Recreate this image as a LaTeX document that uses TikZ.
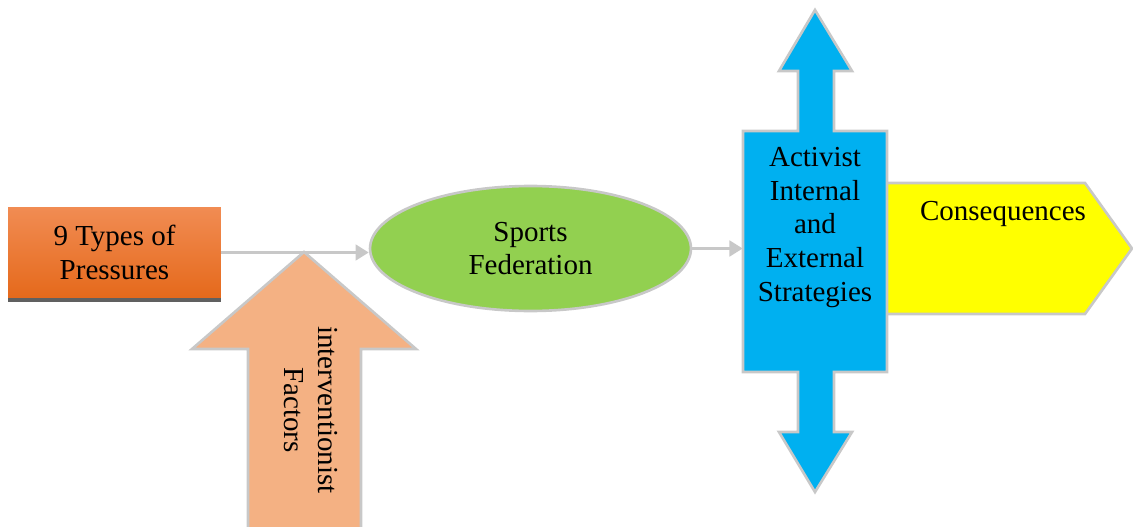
\documentclass[tikz,border=0pt]{standalone}
\usepackage{fontspec}
\setmainfont{Liberation Serif}
\usetikzlibrary{arrows.meta}
\usetikzlibrary{shapes.geometric}
\definecolor{linegray}{HTML}{C8C8C8}
\definecolor{shadowgray}{HTML}{606060}
\definecolor{orangetop}{HTML}{F18C53}
\definecolor{orangebot}{HTML}{E5691B}
\definecolor{peach}{HTML}{F4B183}
\definecolor{fedgreen}{HTML}{92D050}
\definecolor{stratblue}{HTML}{00B0F0}
\definecolor{consyellow}{HTML}{FFFF00}
\tikzset{
    txt/.style={
        font=\fontsize{16.5}{19.3}\selectfont,
        align=center,
        inner sep=0pt
    },
    outline/.style={
        draw=linegray,
        line width=1.5pt,
        line join=miter
    },
    link/.style={
        draw=linegray,
        line width=1.4pt,
        -{Triangle[length=7.5pt, width=9pt]}
    },
    pressbox/.style={
        txt,
        rectangle,
        minimum width=4.26cm,
        minimum height=1.82cm,
        top color=orangetop,
        bottom color=orangebot
    },
    fedshape/.style={
        txt,
        ellipse,
        outline,
        fill=fedgreen,
        minimum width=6.42cm,
        minimum height=2.5cm
    }
}

\begin{document}
\begin{tikzpicture}[x=0.02cm, y=-0.02cm]
    \clip (0,0) rectangle (1133,527);

    % Pressures box and its shadow
    \fill[shadowgray] (8,212) rectangle (221,302);
    \node[pressbox] (press) at (114.5,252.5) {9 Types of\\Pressures};

    % interventionist factors arrow
    \filldraw[outline, fill=peach] (304,252) -- (416,349) -- (361,349) -- (361,540)
        -- (248,540) -- (248,349) -- (192,349) -- cycle;
    \node[txt, rotate=-90] (factors) at (311,410) {interventionist\\Factors};

    % Federation
    \node[fedshape] (fed) at (530.5,248.5) {Sports\\Federation};

    % Consequences
    \filldraw[outline, fill=consyellow] (880,183) -- (1085,183) -- (1132,248.5)
        -- (1085,314) -- (880,314) -- cycle;
    \node[txt] (cons) at (1003,214) {Consequences};

    % Strategies, with arrows up and down
    \filldraw[outline, fill=stratblue] (743,131) -- (798,131) -- (798,71) -- (779,71)
        -- (815,10) -- (852,71) -- (834,71) -- (834,131) -- (887,131) -- (887,372)
        -- (834,372) -- (834,432) -- (852,432) -- (815,492) -- (779,432)
        -- (798,432) -- (798,372) -- (743,372) -- cycle;
    \node[inner sep=0pt, minimum width=2.88cm, minimum height=4.82cm] (strat) at (815,251.5) {};
    \node[txt] (stratlbl) at (815,227.5) {Activist\\Internal\\and\\External\\Strategies};

    % Links
    \draw[link] (press.east) -- (press.east -| fed.west);
    \draw[link] (fed.east) -- (fed.east -| strat.west);
\end{tikzpicture}
\end{document}
